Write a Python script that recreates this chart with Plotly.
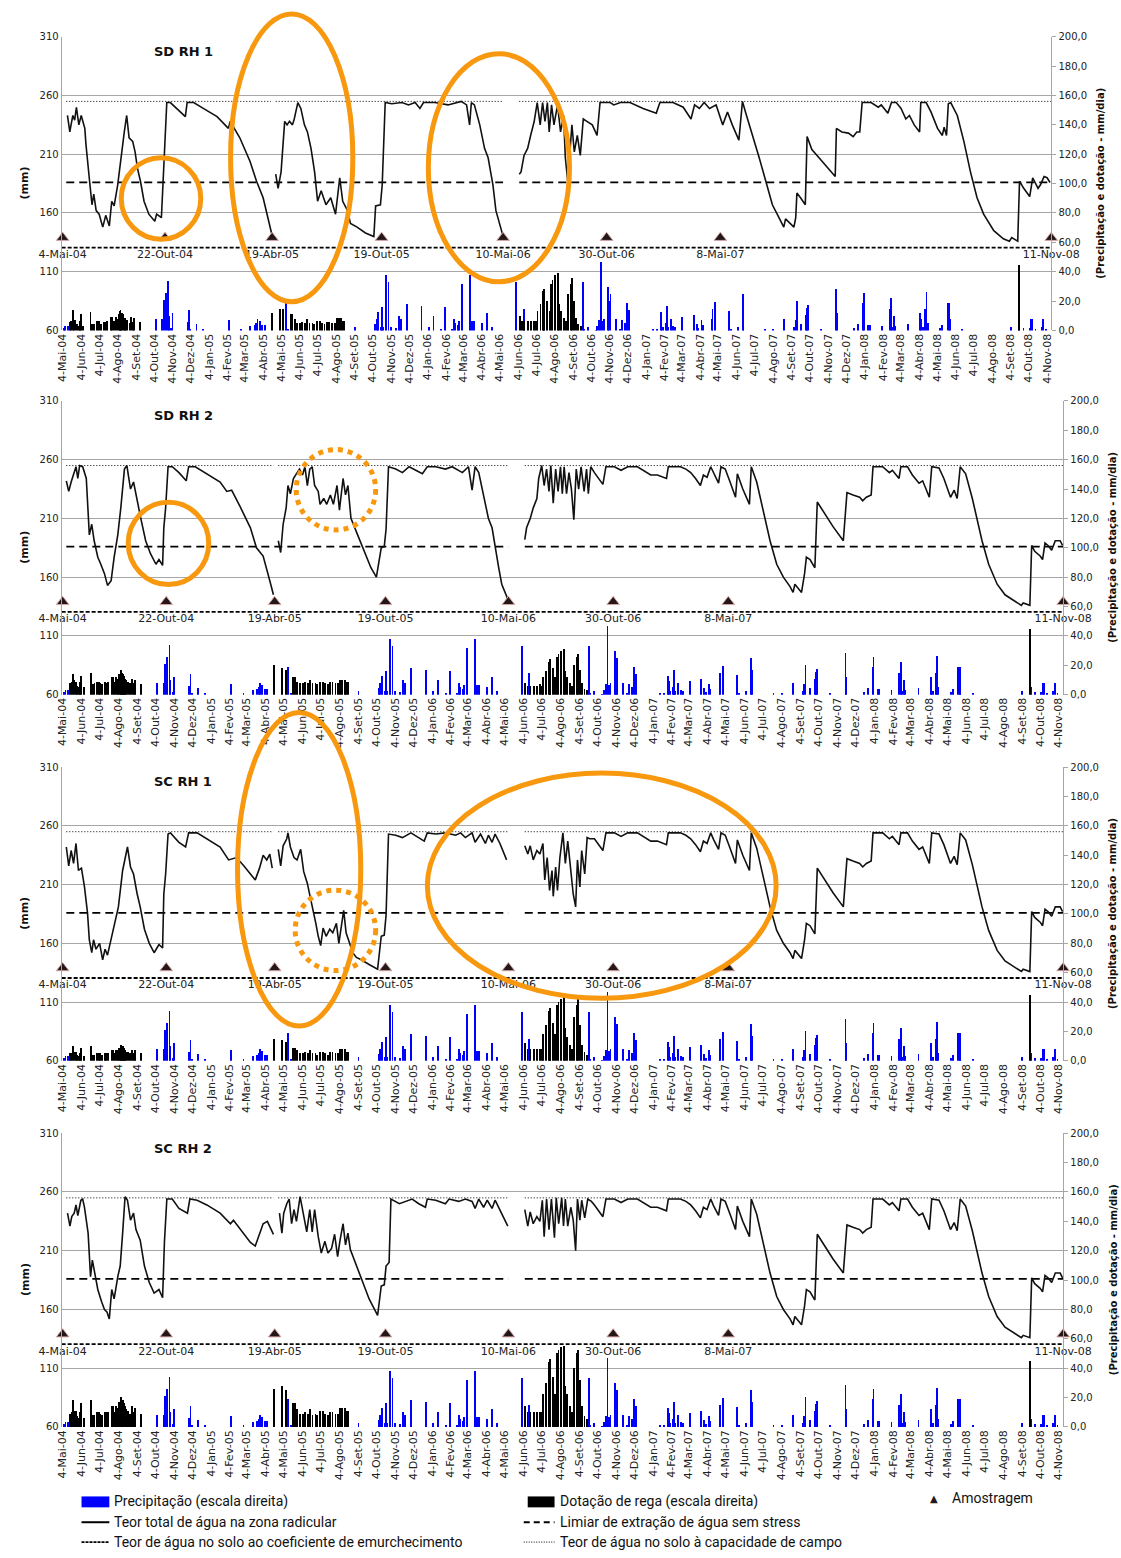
import pandas as pd
import plotly.graph_objects as go

W, H = 1121, 1558
INICIO = pd.Timestamp("2004-05-04")
FIM_DIA = 1652

MESES = ["Jan", "Fev", "Mar", "Abr", "Mai", "Jun", "Jul", "Ago", "Set", "Out", "Nov", "Dez"]

# Datas de amostragem (dias desde 4-Mai-04)
AMOSTRAS_DIA = [0, 171, 350, 533, 736, 909, 1099, 1652]
AMOSTRAS_TXT = ["4-Mai-04", "22-Out-04", "19-Abr-05", "19-Out-05",
                "10-Mai-06", "30-Out-06", "8-Mai-07", "11-Nov-08"]

# Níveis de referência do teor de água (mm)
CAPACIDADE_CAMPO = 255
LIMIAR_STRESS = 186
EMURCHECIMENTO = 130.5
NIVEL_AMOSTRA = 139
NIVEL_ROTULO = 124

# Precipitação diária (mm/dia), comum a todos os talhões
PRECIP_DIA = [1, 4, 8, 155, 166, 169, 172, 175.7, 177, 181, 183, 208, 210.5, 213, 223, 234, 278, 298, 313,
              320, 323, 325, 329, 333, 337, 372, 376, 488, 521.5, 524, 526, 531, 532.6, 535, 540, 544,
              547.5, 556, 562, 565, 575, 599, 611, 619, 632, 639, 650, 654, 656, 660, 662, 667, 680, 683,
              687, 699.5, 709, 717, 757.5, 770, 804, 868.5, 871, 877, 890, 893, 896, 899, 901.6, 904, 911,
              913, 915, 924.5, 931, 934, 939, 943, 946, 986, 993, 999, 1000, 1003, 1007, 1009, 1011, 1016,
              1020, 1023, 1035, 1054, 1059, 1061.5, 1067, 1069, 1084, 1085.4, 1090, 1112, 1113, 1116,
              1128, 1136, 1137, 1173, 1187, 1205, 1222, 1224, 1226, 1233, 1242, 1243.6, 1245.3, 1267,
              1292, 1293.2, 1322, 1329, 1336.6, 1338.3, 1345, 1348, 1368, 1381, 1383, 1385, 1388, 1390,
              1412.5, 1432.5, 1434, 1437, 1441, 1443, 1445, 1465.6, 1469, 1478, 1480.4, 1481.6, 1502,
              1584, 1598, 1605, 1615, 1618, 1620, 1625, 1635, 1638, 1642]
PRECIP_MM = [2, 3, 3, 8, 8, 21, 26, 34, 10, 2, 12, 6, 14, 1, 4.5, 0.7, 7, 1, 3.4,
             3.8, 5.6, 8, 6.7, 3.8, 3.8, 19, 0.7, 2.2, 4.5, 8, 13, 2.2, 16, 2.2, 38, 33,
             2.2, 1.6, 10, 8, 18, 17, 2.2, 10, 0.7, 16, 0.7, 8, 5.6, 3.8, 6.7, 32, 38, 6.7,
             6.7, 5.6, 12.4, 2.2, 33, 15, 2.2, 33, 1.1, 2.7, 0.4, 3.4, 7.2, 47, 6.7, 8.3, 30,
             20, 25, 8, 1.1, 7.2, 5.6, 19, 14, 0.7, 0.7, 13, 9.4, 2.2, 5.6, 17, 2.2, 8.3,
             3.4, 2.2, 9.4, 10.6, 4.5, 1.6, 7.2, 3.8, 8.3, 14.6, 19.6, 6.7, 13.5, 0.7,
             2.2, 24.7, 17, 0.7, 0.7, 8, 2.2, 7.2, 20, 4.5, 10.6, 15.7, 17.3, 1.1,
             28.5, 12, 1.6, 4.5, 19, 26, 3.8, 3.8, 3.4, 15, 22, 2.2, 10, 3.4,
             4.5, 12.4, 8, 2.2, 14.6, 26.7, 5.6, 1.6, 3.8, 19, 19, 8, 1.1,
             2.2, 5.6, 1.6, 1.6, 8.3, 8, 1.1, 2.7, 8, 1.1]

# Calendário de rega (dias desde 4-Mai-04) e dotações (mm/dia) por talhão
REGA_DIA = [12, 14, 16, 19, 21, 23, 27, 28, 30, 34, 46, 49, 52, 56, 59, 61, 64, 69, 71, 74, 80, 82, 85, 88,
            91, 93, 95, 96, 97, 99, 101, 103, 104, 107, 111, 114, 117, 119, 129,
            349, 362, 368, 380, 383, 387, 391, 396, 400, 404, 408, 412, 417, 420, 424, 429, 433, 437,
            441, 445, 450, 454, 458, 461, 465, 467, 470,
            763, 767, 771, 777, 782, 787, 791, 793, 798, 802, 804, 809, 813, 816, 818, 822, 827, 829,
            832, 837, 840, 844, 849, 851, 854, 857, 861, 865,
            1597]
REGA_SD_RH1 = [6.1, 6.7, 13.9, 7.2, 7.2, 4.5, 3.4, 6.7, 11.2, 3.4, 12.8, 4.9, 4.9, 6.3, 6.7, 6.3, 4.9, 6.1,
               6.1, 6.3, 9.4, 9.4, 6.7, 9.4, 8.3, 11.7, 13.5, 14.2, 12.4, 12.4, 11.2, 9, 7.9, 7.4, 5.6,
               9.4, 6.1, 9, 6.1,
               12.4, 15.1, 14.6, 11.7, 11.7, 8.3, 5.6, 5.6, 6.1, 5.6, 7.9, 5.2, 5.6, 4.5, 6.7, 6.7, 5.6,
               4.5, 6.1, 6.1, 5.2, 5.2, 9, 9, 9, 6.7, 6.7,
               10.1, 6.7, 6.7, 6.3, 6.3, 6.7, 6.3, 13.5, 18, 27, 28.1, 20.2, 13.5, 31.5, 34.8, 38.2, 39.3,
               18, 13.5, 9, 6.7, 24.7, 31.5, 36, 20.2, 9, 4.5, 3.4,
               45]
REGA_SD_RH2 = [8, 9, 14, 10, 9, 6, 5, 9, 13, 5, 15, 7, 8, 9, 9, 8, 7, 9, 8, 9, 12, 12, 9, 12, 11, 14, 16,
               17, 15, 14, 13, 11, 10, 9, 8, 11, 8, 10, 7,
               20, 18, 17, 12, 12, 9, 8, 8, 9, 8, 10, 8, 8, 7, 9, 9, 8, 7, 9, 9, 8, 8, 10, 10, 10, 9, 9,
               8, 6, 6, 6, 6, 7, 6, 12, 16, 22, 24, 18, 12, 26, 28, 30, 31, 16, 12, 8, 6, 20, 26, 28, 17,
               8, 4, 3,
               45]
REGA_SC_RH1 = [5, 5, 10, 6, 6, 4, 3, 5, 9, 3, 10, 4, 4, 5, 5, 5, 4, 5, 5, 5, 7, 7, 5, 7, 7, 9, 10, 11, 10,
               10, 9, 7, 6, 6, 5, 7, 5, 7, 5,
               15, 14, 13, 9, 9, 7, 5, 5, 6, 5, 7, 5, 5, 4, 6, 6, 5, 4, 6, 6, 5, 5, 8, 8, 8, 6, 6,
               12, 8, 8, 8, 8, 8, 8, 18, 24, 34, 36, 26, 18, 38, 40, 42, 44, 22, 16, 11, 8, 30, 38, 42, 24,
               11, 6, 4,
               45]
REGA_SC_RH2 = [9, 10, 18, 11, 11, 7, 6, 10, 16, 6, 18, 8, 8, 10, 10, 9, 8, 10, 10, 10, 14, 14, 10, 14, 13,
               17, 19, 20, 18, 18, 16, 14, 12, 11, 9, 14, 10, 13, 9,
               26, 28, 25, 16, 16, 12, 9, 9, 10, 9, 12, 8, 9, 8, 11, 11, 9, 8, 10, 10, 9, 9, 13, 13, 13,
               11, 11,
               14, 10, 10, 10, 10, 10, 10, 22, 30, 44, 46, 34, 22, 50, 52, 54, 55, 28, 22, 14, 10, 40, 50,
               52, 32, 14, 7, 5,
               45]

# Teor total de água na zona radicular (dia, mm); None separa períodos sem registo
SD_RH1 = [
    (8, 243), (12, 229), (14, 235), (17, 243), (20, 239), (23, 250), (27, 235), (31, 243), (37, 232),
    (39, 218), (45, 187), (49, 167), (52, 176), (56, 162), (61, 159), (67, 148), (72, 158), (78, 149),
    (82, 170), (86, 166), (92, 184), (97, 207), (103, 229), (107, 243), (111, 224), (117, 221), (121, 212),
    (125, 198), (130, 187), (136, 170), (144, 159), (154, 153), (157, 159), (165, 156), (169, 195),
    (174, 254), (180, 254), (191, 249), (205, 242), (208, 254), (219, 254), (235, 249), (258, 242),
    (277, 232), (280, 238), (296, 224), (313, 204), (324, 187), (335, 173), (349, 143),
    None,
    (356, 193), (360, 181), (365, 195), (371, 238), (375, 235), (379, 238), (384, 235), (387, 240),
    (393, 254), (398, 249), (404, 235), (409, 229), (415, 215), (421, 195), (426, 170), (432, 179),
    (440, 167), (448, 173), (456, 159), (463, 190), (468, 170), (476, 162), (481, 151), (492, 148),
    (506, 143), (520, 140), (523, 166), (531, 167), (534, 184), (539, 254), (550, 253), (567, 254),
    (578, 252), (589, 254), (597, 249), (603, 254), (622, 254), (644, 252), (666, 255), (675, 252),
    (680, 235), (683, 254), (688, 252), (697, 235), (705, 215), (711, 207), (719, 184), (724, 162),
    (735, 142),
    None,
    (763, 193), (766, 195), (771, 209), (777, 215), (782, 226), (788, 238), (793, 254), (798, 235),
    (802, 254), (806, 238), (810, 254), (813, 229), (817, 252), (821, 235), (827, 252), (832, 229),
    (837, 243), (840, 207), (844, 187), (849, 218), (851, 235), (855, 212), (860, 226), (865, 209),
    (870, 240), (876, 238), (885, 235), (893, 226), (898, 254), (915, 254), (921, 252), (932, 254),
    (948, 254), (970, 249), (992, 245), (998, 254), (1020, 254), (1037, 250), (1050, 240), (1056, 252),
    (1064, 249), (1072, 254), (1081, 249), (1092, 252), (1103, 235), (1111, 246), (1119, 235),
    (1130, 222), (1136, 255), (1141, 246), (1153, 226), (1164, 207), (1175, 187), (1186, 167),
    (1197, 156), (1205, 148), (1208, 155), (1216, 151), (1222, 148), (1225, 156), (1227, 177),
    (1233, 173), (1241, 167), (1244, 225), (1252, 214), (1269, 204), (1291, 191), (1293, 232),
    (1302, 229), (1313, 228), (1321, 225), (1327, 229), (1332, 229), (1336, 254), (1351, 254),
    (1363, 250), (1368, 252), (1379, 245), (1385, 254), (1393, 254), (1401, 249), (1409, 240),
    (1415, 243), (1423, 235), (1432, 229), (1434, 254), (1443, 254), (1451, 246), (1462, 232),
    (1470, 226), (1473, 233), (1477, 226), (1480, 253), (1484, 254), (1495, 243), (1506, 221),
    (1517, 195), (1528, 173), (1539, 159), (1556, 145), (1572, 138), (1582, 136), (1586, 139),
    (1596, 136), (1599, 187), (1606, 181), (1616, 174), (1621, 190), (1630, 181), (1634, 184),
    (1640, 191), (1645, 190), (1650, 186),
]

# Troço final (a partir de Out-06), igual nos talhões SD RH 2, SC RH 1 e SC RH 2
FINAL_COMUM = [
    (878, 249), (892, 239), (897, 254), (911, 254), (922, 251), (933, 254), (949, 254), (971, 247),
    (982, 247), (997, 244), (1000, 254), (1020, 254), (1029, 252), (1037, 249), (1045, 244), (1053, 238),
    (1058, 247), (1064, 245), (1070, 254), (1075, 248), (1083, 240), (1087, 254), (1094, 252),
    (1102, 241), (1111, 228), (1114, 248), (1123, 235), (1134, 222), (1137, 254), (1146, 241),
    (1157, 216), (1168, 191), (1179, 171), (1190, 160), (1201, 152), (1206, 147), (1209, 154),
    (1220, 147), (1225, 163), (1228, 177), (1234, 175), (1242, 168), (1246, 224), (1256, 216),
    (1272, 203), (1289, 191), (1295, 232), (1305, 230), (1316, 228), (1321, 225), (1327, 228),
    (1335, 230), (1338, 254), (1354, 254), (1365, 249), (1370, 251), (1381, 244), (1384, 254),
    (1395, 254), (1403, 247), (1414, 240), (1420, 242), (1431, 228), (1435, 254), (1447, 253),
    (1455, 244), (1466, 228), (1472, 234), (1477, 227), (1482, 254), (1491, 248), (1502, 227),
    (1510, 210), (1518, 191), (1529, 171), (1543, 154), (1556, 145), (1573, 139), (1583, 136),
    (1586, 138), (1597, 136), (1600, 187), (1605, 182), (1614, 178), (1618, 175), (1622, 189),
    (1627, 187), (1633, 183), (1639, 191), (1647, 191), (1651, 187),
]

SD_RH2 = [
    (6, 242), (10, 233), (14, 241), (18, 248), (22, 254), (25, 244), (28, 255), (33, 254), (39, 244),
    (44, 196), (48, 205), (52, 191), (58, 177), (63, 171), (69, 163), (74, 153), (80, 157), (85, 177),
    (91, 196), (96, 219), (102, 252), (106, 255), (112, 235), (117, 241), (122, 227), (129, 210),
    (137, 191), (145, 180), (154, 171), (159, 175), (165, 170), (167, 202), (170, 219), (174, 254),
    (181, 254), (192, 249), (204, 242), (208, 254), (219, 254), (238, 248), (260, 241), (271, 233),
    (279, 234), (293, 220), (310, 202), (320, 185), (331, 178), (342, 157), (348, 145),
    None,
    (356, 191), (360, 181), (364, 205), (369, 219), (372, 238), (376, 231), (381, 244), (386, 248),
    (391, 252), (396, 247), (400, 254), (404, 238), (408, 252), (412, 254), (416, 238), (422, 233),
    (425, 222), (431, 227), (436, 222), (442, 230), (447, 222), (453, 238), (457, 217), (463, 244),
    (467, 230), (471, 238), (476, 210), (487, 196), (498, 182), (509, 168), (518, 160), (526, 185),
    (531, 186), (534, 201), (538, 254), (550, 252), (561, 249), (572, 254), (583, 251), (594, 248),
    (602, 254), (616, 254), (632, 252), (643, 254), (660, 249), (670, 254), (676, 234), (681, 254),
    (687, 249), (695, 230), (703, 210), (709, 202), (714, 185), (720, 168), (725, 154), (731, 146),
    (736, 140),
    None,
    (763, 192), (766, 202), (772, 210), (777, 219), (783, 227), (786, 244), (791, 255), (795, 238),
    (799, 252), (803, 233), (806, 255), (810, 223), (814, 252), (818, 233), (822, 254), (825, 231),
    (828, 254), (832, 231), (836, 249), (840, 235), (844, 209), (848, 252), (852, 235), (856, 254),
    (861, 233), (865, 252), (868, 231), (872, 254),
] + FINAL_COMUM

SC_RH1 = [
    (6, 242), (10, 226), (14, 239), (18, 228), (22, 245), (26, 222), (31, 224), (36, 208), (41, 186),
    (44, 163), (48, 152), (51, 163), (55, 155), (61, 160), (66, 146), (70, 155), (74, 150), (80, 163),
    (85, 174), (92, 191), (99, 222), (103, 233), (107, 242), (112, 225), (117, 219), (123, 202),
    (128, 191), (135, 172), (143, 160), (151, 152), (159, 159), (165, 156), (167, 202), (170, 219),
    (174, 253), (178, 254), (192, 246), (203, 242), (208, 254), (222, 254), (238, 249), (260, 242),
    (274, 231), (287, 233), (299, 226), (310, 219), (318, 214), (325, 224), (331, 235), (337, 231),
    (342, 236), (346, 224),
    None,
    (356, 240), (360, 226), (364, 243), (370, 249), (372, 254), (376, 242), (382, 233), (387, 231),
    (393, 240), (398, 221), (404, 211), (408, 202), (412, 191), (418, 177), (422, 166), (426, 158),
    (430, 173), (435, 166), (441, 172), (446, 169), (452, 177), (456, 160), (460, 174), (464, 188),
    (468, 169), (474, 160), (479, 152), (485, 148), (493, 146), (506, 142), (520, 138), (526, 166),
    (531, 167), (534, 184), (538, 253), (550, 252), (561, 250), (575, 254), (588, 250), (597, 247),
    (602, 254), (616, 253), (632, 254), (649, 252), (657, 254), (665, 250), (676, 254), (681, 246),
    (690, 253), (698, 245), (703, 252), (709, 246), (714, 253), (722, 245), (733, 231),
    None,
    (763, 243), (768, 236), (772, 243), (777, 231), (783, 239), (788, 236), (793, 245), (796, 214),
    (800, 233), (804, 205), (808, 222), (810, 200), (814, 225), (817, 205), (821, 233), (826, 254),
    (830, 228), (834, 247), (839, 222), (843, 202), (847, 191), (850, 231), (854, 208), (857, 239),
    (862, 219), (866, 250), (870, 249),
] + FINAL_COMUM

SC_RH2 = [
    (8, 242), (12, 231), (15, 239), (19, 242), (22, 249), (25, 240), (30, 253), (33, 254), (36, 247),
    (42, 225), (46, 188), (49, 202), (53, 191), (58, 177), (64, 167), (69, 160), (73, 158), (77, 152),
    (81, 177), (85, 169), (91, 188), (95, 197), (99, 225), (103, 256), (107, 253), (112, 236),
    (117, 242), (121, 228), (128, 219), (135, 197), (143, 183), (151, 174), (159, 177), (165, 170),
    (168, 217), (172, 254), (181, 254), (192, 246), (206, 242), (210, 254), (222, 253), (238, 249),
    (260, 242), (277, 233), (282, 236), (299, 225), (310, 217), (318, 214), (325, 224), (331, 233),
    (338, 235), (342, 231), (348, 224),
    None,
    (358, 242), (362, 225), (365, 242), (370, 250), (374, 254), (378, 233), (382, 245), (386, 235),
    (392, 256), (394, 250), (398, 239), (403, 226), (408, 245), (412, 226), (416, 245), (422, 222),
    (427, 208), (433, 218), (438, 208), (444, 212), (449, 224), (454, 205), (458, 219), (463, 233),
    (467, 215), (471, 225), (475, 211), (485, 197), (495, 183), (506, 169), (520, 155), (526, 180),
    (531, 181), (534, 197), (539, 200), (542, 254), (556, 250), (567, 252), (577, 254), (588, 250),
    (599, 247), (602, 254), (616, 253), (632, 250), (638, 254), (654, 252), (665, 254), (676, 252),
    (681, 246), (687, 254), (695, 247), (701, 253), (709, 246), (714, 253), (722, 245), (735, 231),
    None,
    (763, 245), (768, 231), (772, 243), (777, 233), (783, 239), (788, 235), (792, 253), (795, 222),
    (799, 254), (803, 228), (807, 254), (812, 221), (815, 255), (819, 233), (824, 255), (827, 231),
    (830, 254), (834, 231), (839, 247), (843, 236), (847, 210), (850, 254), (854, 236), (857, 253),
    (862, 238), (867, 254), (873, 252),
] + FINAL_COMUM

# Períodos com registo (para as linhas de referência)
PERIODOS_CC = [(6, 348), (356, 736), (763, FIM_DIA)]
PERIODOS_LIMIAR = [(6, 736), (763, FIM_DIA)]

PAINEIS = [
    dict(titulo="SD RH 1", topo=31, direita=1053, serie=SD_RH1, rega=REGA_SD_RH1),
    dict(titulo="SD RH 2", topo=398, direita=1065, serie=SD_RH2, rega=REGA_SD_RH2),
    dict(titulo="SC RH 1", topo=767, direita=1065, serie=SC_RH1, rega=REGA_SC_RH1),
    dict(titulo="SC RH 2", topo=1136, direita=1065, serie=SC_RH2, rega=REGA_SC_RH2),
]
ALTURA = 296
ESQUERDA = 57

# Destaques (caixas em píxeis: x0, y0, x1, y1, tracejado)
DESTAQUES = [
    (117, 153, 197, 235, "solid"), (227, 8, 350, 298, "solid"), (426, 48, 568, 278, "solid"),
    (124, 500, 205, 583, "solid"), (293, 447, 373, 528, "dot"),
    (234, 712, 358, 1028, "solid"), (292, 891, 373, 972, "dot"), (425, 773, 776, 1000, "solid"),
]
LARANJA = "#F7980E"

FONTE = "DejaVu Sans"
FONTE_LEG = "Liberation Sans Narrow, Roboto, sans-serif"


def dia_para_data(d):
    return None if d is None else INICIO + pd.Timedelta(days=d)


def px(x):
    return x / W


def py(y):
    return 1 - y / H


def segmentos(periodos):
    xs = []
    for a, b in periodos:
        xs += [dia_para_data(a), dia_para_data(b), None]
    return xs[:-1]


ticks_mes = pd.date_range(INICIO, "2008-11-04", freq=pd.DateOffset(months=1))
ticks_txt = [f"4-{MESES[t.month - 1]}-{t.year % 100:02d}" for t in ticks_mes]

fig = go.Figure()
layout = dict(width=W, height=H, margin=dict(l=0, r=0, t=0, b=0), autosize=False,
              paper_bgcolor="white", plot_bgcolor="white", showlegend=False,
              barmode="overlay", bargap=0, annotations=[], shapes=[])

for k, p in enumerate(PAINEIS):
    xn = "x" if k == 0 else f"x{k + 1}"
    yl = "y" if k == 0 else f"y{2 * k + 1}"
    yr = f"y{2 * k + 2}"
    topo, base = p["topo"], p["topo"] + ALTURA
    dom_y = [py(base), py(topo)]

    layout["xaxis" if k == 0 else f"xaxis{k + 1}"] = dict(
        domain=[px(ESQUERDA), px(p["direita"])], anchor=yl, type="date",
        range=[dia_para_data(-1.7), dia_para_data(FIM_DIA + 0.3)],
        tickmode="array", tickvals=list(ticks_mes), ticktext=ticks_txt, tickangle=-90,
        tickfont=dict(family=FONTE, size=11, color="#222"), showgrid=False, showline=False,
        ticks="", zeroline=False, fixedrange=True)
    layout["yaxis" if k == 0 else f"yaxis{2 * k + 1}"] = dict(
        domain=dom_y, anchor=xn, range=[60, 310], tickvals=[60, 110, 160, 210, 260, 310],
        tickfont=dict(family=FONTE, size=10, color="#222"), showgrid=True, gridcolor="#A6A6A6",
        gridwidth=1, showline=True, linecolor="#A6A6A6", linewidth=1, zeroline=False, ticks="")
    layout[f"yaxis{2 * k + 2}"] = dict(
        domain=dom_y, anchor=xn, overlaying=yl, side="right", range=[0, 200],
        tickvals=list(range(0, 201, 20)), ticktext=[f"{v},0" for v in range(0, 201, 20)],
        tickfont=dict(family=FONTE, size=10, color="#222"), showgrid=False, showline=True,
        linecolor="#A6A6A6", linewidth=1, ticks="outside", ticklen=4, tickcolor="#A6A6A6",
        zeroline=False)

    largura = 1.4 * 86400000
    fig.add_trace(go.Bar(x=[dia_para_data(d) for d in PRECIP_DIA], y=PRECIP_MM, width=largura,
                         marker=dict(color="#0000FF", line=dict(width=0)), xaxis=xn, yaxis=yr))
    fig.add_trace(go.Bar(x=[dia_para_data(d) for d in REGA_DIA], y=p["rega"], width=largura,
                         marker=dict(color="#000000", line=dict(width=0)), xaxis=xn, yaxis=yr))

    # Linhas de referência
    fig.add_trace(go.Scatter(x=[dia_para_data(-1.7), dia_para_data(FIM_DIA)],
                             y=[EMURCHECIMENTO] * 2, mode="lines",
                             line=dict(color="#000", width=1.8, dash="4px,2px"), xaxis=xn, yaxis=yl))
    xs = segmentos(PERIODOS_LIMIAR)
    fig.add_trace(go.Scatter(x=xs, y=[None if v is None else LIMIAR_STRESS for v in xs], mode="lines",
                             line=dict(color="#000", width=1.8, dash="8px,5px"), xaxis=xn, yaxis=yl))
    xs = segmentos(PERIODOS_CC)
    fig.add_trace(go.Scatter(x=xs, y=[None if v is None else CAPACIDADE_CAMPO for v in xs], mode="lines",
                             line=dict(color="#000", width=1, dash="1px,2px"), xaxis=xn, yaxis=yl))

    # Teor total de água
    dias = [None if s is None else s[0] for s in p["serie"]]
    teor = [None if s is None else s[1] for s in p["serie"]]
    fig.add_trace(go.Scatter(x=[dia_para_data(d) for d in dias], y=teor, mode="lines",
                             connectgaps=False, line=dict(color="#111", width=1.6),
                             xaxis=xn, yaxis=yl))

    # Amostragens (marcador e data)
    fig.add_trace(go.Scatter(x=[dia_para_data(d) for d in AMOSTRAS_DIA],
                             y=[NIVEL_AMOSTRA] * len(AMOSTRAS_DIA), mode="markers", cliponaxis=False,
                             marker=dict(symbol="triangle-up", size=11, color="#231717",
                                         line=dict(color="#D7A8A8", width=1)),
                             xaxis=xn, yaxis=yl))
    fig.add_trace(go.Scatter(x=[dia_para_data(d) for d in AMOSTRAS_DIA],
                             y=[NIVEL_ROTULO] * len(AMOSTRAS_DIA), mode="text", text=AMOSTRAS_TXT,
                             textposition="middle center", cliponaxis=False,
                             textfont=dict(family=FONTE, size=11, color="#222"),
                             xaxis=xn, yaxis=yl))

    layout["annotations"].append(dict(
        x=px(148), y=py(topo + 15), xref="paper", yref="paper", text=f"<b>{p['titulo']}</b>",
        showarrow=False, font=dict(family=FONTE, size=13, color="#111"),
        xanchor="left", yanchor="middle"))
    layout["annotations"].append(dict(
        x=px(20), y=py(topo + 147), xref="paper", yref="paper", text="<b>(mm)</b>",
        showarrow=False, textangle=-90, font=dict(family=FONTE, size=11, color="#111"),
        xanchor="center", yanchor="middle"))
    layout["annotations"].append(dict(
        x=px(p["direita"] + 50), y=py(topo + 148), xref="paper", yref="paper",
        text="<b>(Precipitação e dotação - mm/dia)</b>", showarrow=False, textangle=-90,
        font=dict(family=FONTE, size=10, color="#111"), xanchor="center", yanchor="middle"))

# Destaques a laranja
for x0, y0, x1, y1, estilo in DESTAQUES:
    layout["shapes"].append(dict(
        type="circle", xref="paper", yref="paper", x0=px(x0), x1=px(x1), y0=py(y1), y1=py(y0),
        line=dict(color=LARANJA, width=5, dash=estilo), layer="above"))

# Legenda
LEG_FONTE = dict(family=FONTE_LEG, size=14, color="#111")
legenda_txt = [
    (108, 1507, "Precipitação (escala direita)"),
    (556, 1507, "Dotação de rega (escala direita)"),
    (951, 1504, "Amostragem"),
    (108, 1528, "Teor total de água na zona radicular"),
    (556, 1528, "Limiar de extração de água sem stress"),
    (108, 1548, "Teor de água no solo ao coeficiente de emurchecimento"),
    (556, 1548, "Teor de água no solo à capacidade de campo"),
]
for x, y, t in legenda_txt:
    layout["annotations"].append(dict(x=px(x), y=py(y), xref="paper", yref="paper", text=t,
                                      showarrow=False, font=LEG_FONTE, xanchor="left",
                                      yanchor="middle"))
layout["annotations"].append(dict(x=px(935), y=py(1504), xref="paper", yref="paper", text="▲",
                                  showarrow=False, font=dict(family=FONTE, size=10, color="#231717"),
                                  xanchor="center", yanchor="middle"))
layout["shapes"] += [
    dict(type="rect", xref="paper", yref="paper", x0=px(77), x1=px(105), y0=py(1513), y1=py(1502),
         fillcolor="#0000FF", line=dict(width=0)),
    dict(type="rect", xref="paper", yref="paper", x0=px(526), x1=px(553), y0=py(1513), y1=py(1502),
         fillcolor="#000000", line=dict(width=0)),
    dict(type="line", xref="paper", yref="paper", x0=px(77), x1=px(105), y0=py(1528), y1=py(1528),
         line=dict(color="#000", width=2)),
    dict(type="line", xref="paper", yref="paper", x0=px(522), x1=px(553), y0=py(1528), y1=py(1528),
         line=dict(color="#000", width=2, dash="6px,4px")),
    dict(type="line", xref="paper", yref="paper", x0=px(77), x1=px(105), y0=py(1548), y1=py(1548),
         line=dict(color="#000", width=1.8, dash="3px,1px")),
    dict(type="line", xref="paper", yref="paper", x0=px(522), x1=px(553), y0=py(1548), y1=py(1548),
         line=dict(color="#000", width=1, dash="1px,1.5px")),
]

fig.update_layout(**layout)
fig.write_html("out.html", include_plotlyjs=True, config={"displayModeBar": False})
